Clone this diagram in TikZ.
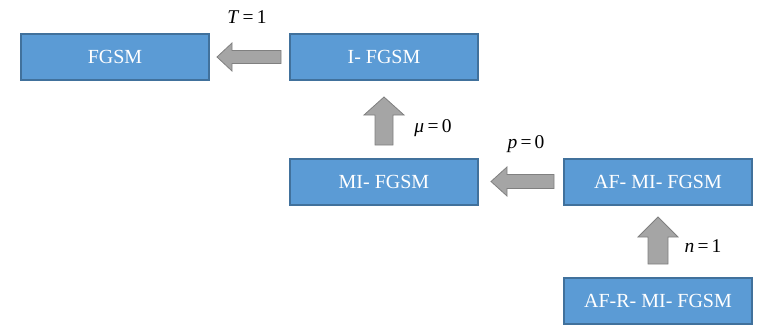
\documentclass[tikz,border=0pt]{standalone}
\usepackage{fontspec}
\setmainfont{Liberation Serif}
\begin{document}
\begin{tikzpicture}[x=1pt,y=-1pt,
  box/.style={draw=boxedge,fill=boxfill,line width=1.2pt,minimum width=188pt,minimum height=46pt,inner sep=0pt,text=white,font=\fontsize{20}{24}\selectfont},
  blockarrow/.style={draw=arrowedge,fill=arrowfill,line width=0.8pt,line join=miter},
  lbl/.style={font=\fontsize{19.5}{23}\selectfont,inner sep=0pt}]
\definecolor{boxfill}{HTML}{5B9BD5}
\definecolor{boxedge}{HTML}{41719C}
\definecolor{arrowfill}{HTML}{A5A5A5}
\definecolor{arrowedge}{HTML}{808080}
\useasboundingbox (0,0) rectangle (758,329);
\node[box] (fgsm) at (115,57) {FGSM};
\node[box] (ifgsm) at (384,57) {I- FGSM};
\node[box] (mifgsm) at (384,182) {MI- FGSM};
\node[box] (afmi) at (658,182) {AF- MI- FGSM};
\node[box] (afrmi) at (658,301) {AF-R- MI- FGSM};
% block arrows
\draw[blockarrow] (217,57) -- (232,43) -- (232,50.5) -- (281,50.5) -- (281,63.5) -- (232,63.5) -- (232,71) -- cycle;
\draw[blockarrow] (384,97) -- (404,115) -- (393,115) -- (393,145) -- (375,145) -- (375,115) -- (364,115) -- cycle;
\draw[blockarrow] (491,181.5) -- (507,167) -- (507,174.5) -- (554,174.5) -- (554,188.5) -- (507,188.5) -- (507,196) -- cycle;
\draw[blockarrow] (658,217) -- (678,237) -- (668,237) -- (668,264) -- (648,264) -- (648,237) -- (638,237) -- cycle;
% labels
\node[lbl] (lT) at (247,17) {\textit{T}\,=\,1};
\node[lbl] (lmu) at (433,128) {\textit{μ}\,=\,0};
\node[lbl] (lp) at (526,144) {\textit{p}\,=\,0};
\node[lbl] (ln) at (703,246) {\textit{n}\,=\,1};
\end{tikzpicture}
\end{document}
